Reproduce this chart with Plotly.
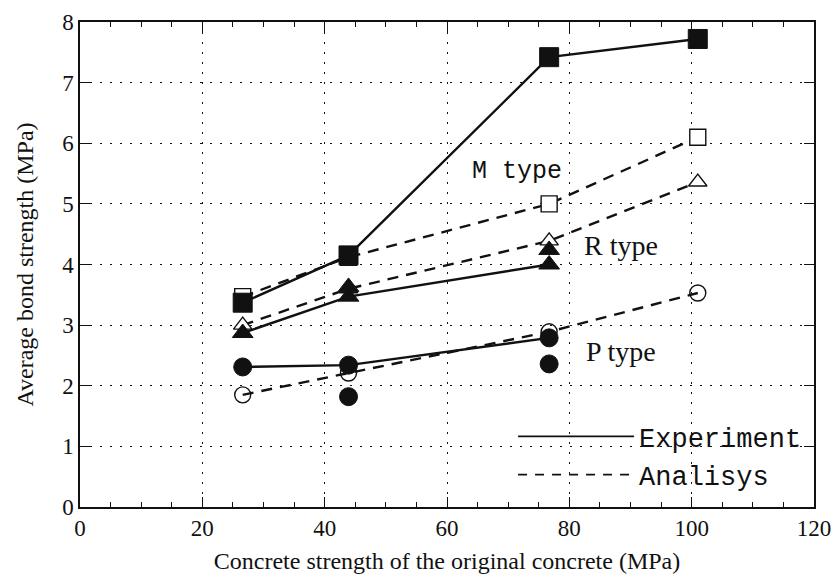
import plotly.graph_objects as go

# ---- data ----
x_strength = [26.6, 43.9, 76.7, 101.0]

m_exp = [3.37, 4.15, 7.42, 7.72]
m_ana = [3.47, 4.12, 5.00, 6.10]

r_exp_x = [26.6, 43.9, 76.7]
r_exp = [2.87, 3.47, 4.00]
r_ana = [3.00, 3.60, 4.39, 5.36]
r_extra_x = [43.9, 76.7]
r_extra = [3.63, 4.24]

p_exp_x = [26.6, 43.9, 76.7]
p_exp = [2.31, 2.34, 2.79]
p_ana = [1.85, 2.21, 2.89, 3.53]
p_extra_x = [43.9, 76.7]
p_extra = [1.82, 2.36]

type_labels = ["M type", "R type", "P type"]
type_label_x = [71.5, 88.5, 88.5]
type_label_y = [5.53, 4.32, 2.57]

legend_names = ["Experiment", "Analisys"]

x_ticks = [0, 20, 40, 60, 80, 100, 120]
y_ticks = [0, 1, 2, 3, 4, 5, 6, 7, 8]

BLACK = "#111111"
LW = 2.4
DASH = "11px,8px"
SERIF = "Liberation Serif, Times New Roman, serif"
MONO = "Liberation Mono, Courier New, monospace"

fig = go.Figure()

def add_ana(x, y, symbol, size, fill):
    fig.add_trace(go.Scatter(
        x=x, y=y, mode="lines+markers", showlegend=False,
        line=dict(color=BLACK, width=LW, dash=DASH),
        marker=dict(symbol=symbol, size=size, color=fill,
                    line=dict(color=BLACK, width=1.4)),
    ))

def add_exp(x, y, symbol, size):
    fig.add_trace(go.Scatter(
        x=x, y=y, mode="lines+markers", showlegend=False,
        line=dict(color=BLACK, width=LW),
        marker=dict(symbol=symbol, size=size, color=BLACK,
                    line=dict(color=BLACK, width=1)),
    ))

def add_pts(x, y, symbol, size):
    fig.add_trace(go.Scatter(
        x=x, y=y, mode="markers", showlegend=False,
        marker=dict(symbol=symbol, size=size, color=BLACK,
                    line=dict(color=BLACK, width=1)),
    ))

add_ana(x_strength, m_ana, "square", 16, "white")
add_ana(x_strength, r_ana, "triangle-up", 16, "white")
add_ana(x_strength, p_ana, "circle-open", 16, BLACK)

add_exp(x_strength, m_exp, "square", 19)
add_exp(r_exp_x, r_exp, "triangle-up", 18)
add_exp(p_exp_x, p_exp, "circle", 18)
add_pts(r_extra_x, r_extra, "triangle-up", 18)
add_pts(p_extra_x, p_extra, "circle", 18)

# legend entries (line only)
fig.add_trace(go.Scatter(x=[None], y=[None], mode="lines", name=legend_names[0],
                         line=dict(color=BLACK, width=1.8)))
fig.add_trace(go.Scatter(x=[None], y=[None], mode="lines", name=legend_names[1],
                         line=dict(color=BLACK, width=1.8, dash="9px,8px")))

for lab, lx, ly, fnt, sz in zip(type_labels, type_label_x, type_label_y,
                                [MONO, SERIF, SERIF], [25, 28, 28]):
    fig.add_annotation(x=lx, y=ly, text=lab, showarrow=False,
                       font=dict(family=fnt, size=sz, color=BLACK),
                       xanchor="center", yanchor="middle")

axis_common = dict(
    showline=True, linecolor=BLACK, linewidth=1.5, mirror="allticks",
    ticks="inside", ticklen=10, tickwidth=1.2, tickcolor=BLACK,
    showgrid=True, gridcolor=BLACK, gridwidth=1.3, griddash="2px,8px",
    zeroline=False, automargin=False,
    tickfont=dict(family=SERIF, size=23, color=BLACK),
)

fig.update_xaxes(
    range=[0, 120], tickvals=x_ticks,
    minor=dict(dtick=5, ticks="inside", ticklen=5, tickcolor=BLACK, showgrid=False),
    title=dict(text="Concrete strength of the original concrete (MPa)",
               font=dict(family=SERIF, size=24, color=BLACK), standoff=12),
    **axis_common,
)
fig.update_yaxes(
    range=[0, 8], tickvals=y_ticks,
    title=dict(text="Average bond strength (MPa)",
               font=dict(family=SERIF, size=24, color=BLACK), standoff=22),
    **axis_common,
)

fig.update_layout(
    width=838, height=578,
    margin=dict(l=80, r=24, t=22, b=71),
    paper_bgcolor="white", plot_bgcolor="white",
    showlegend=True,
    legend=dict(x=0.59, y=0.195, xanchor="left", yanchor="top",
                bgcolor="rgba(0,0,0,0)", itemwidth=116,
                font=dict(family=MONO, size=27, color=BLACK),
                tracegroupgap=0),
)

fig.write_html("out.html")
